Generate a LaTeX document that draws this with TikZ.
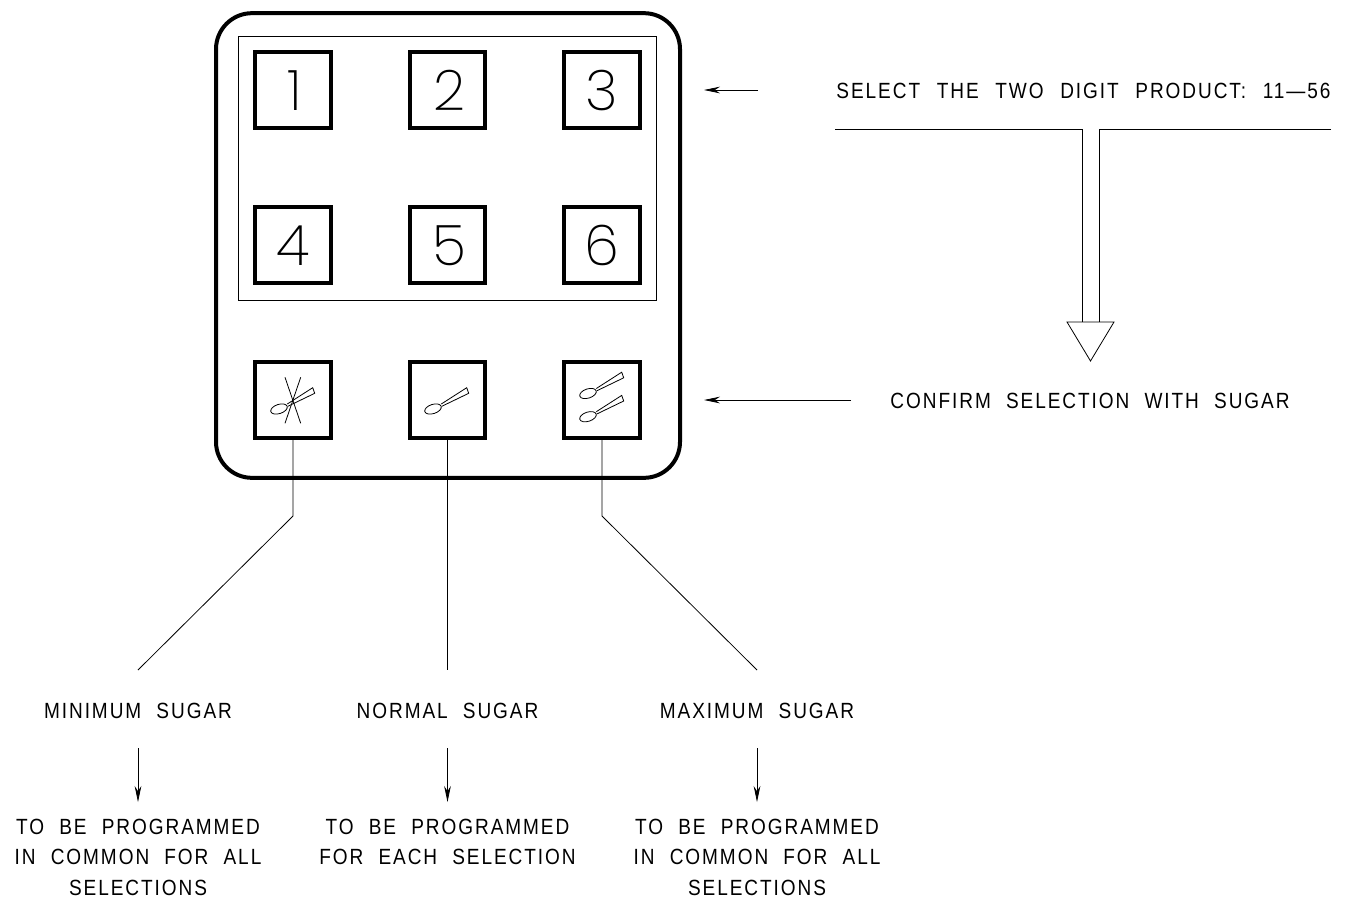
\documentclass[tikz,border=0pt]{standalone}
\usepackage{fontspec}
\setmainfont{Liberation Sans}
\newfontfamily\lblfont[LetterSpace=8.8,WordSpace=2.1,FakeStretch=0.865]{Liberation Sans}
\newfontfamily\digfont{Poppins ExtraLight}
\newcommand\wgap{\ \kern1.1pt}
\usetikzlibrary{arrows.meta}
\tikzset{
  keybox/.style={draw=black,line width=3pt,minimum size=56.5pt,inner sep=0pt,fill=white},
  digit/.style={font=\digfont\fontsize{42}{42}\selectfont},
  lbl/.style={font=\lblfont\fontsize{16.5}{23.1}\selectfont,align=center,inner sep=0pt,text=black},
  thinline/.style={line width=0.6pt,draw=black},
  arr/.style={thinline,-{Stealth[length=12pt,width=5pt]}},
  spoonline/.style={line width=0.6pt,draw=black},
  pics/spoon/.style={code={
    \draw[spoonline,rotate=18] (0,0) ellipse (8.6 and 4.6);
    \draw[spoonline] (8.3,-5) -- (33.7,-21.3) -- (35.7,-15.7) -- (9,-2.8);
  }}
}
\begin{document}
\begin{tikzpicture}[x=0.75pt,y=-0.75pt]
\useasboundingbox (0,0) rectangle (1348,900);
\fill[white] (0,0) rectangle (1348,900);
% panel
\node[draw=black,line width=3pt,rounded corners=27pt,minimum width=348pt,minimum height=348.5pt,inner sep=0pt] (panel) at (448,245.5) {};
\node[thinline,draw,minimum width=314pt,minimum height=198pt,inner sep=0pt] (inner) at (447.5,168) {};
% keys
\node[keybox] (k1) at (293,90) {}; \node[digit] (d-1) at (295,90.5) {1};
\node[keybox] (k2) at (447.5,90) {}; \node[digit] (d-2) at (449,90.5) {2};
\node[keybox] (k3) at (602,90) {}; \node[digit] (d-3) at (602,90.5) {3};
\node[keybox] (k4) at (293,245) {}; \node[digit] (d-4) at (293,245.5) {4};
\node[keybox] (k5) at (447.5,245) {}; \node[digit] (d-5) at (449,245.5) {5};
\node[keybox] (k6) at (602,245) {}; \node[digit] (d-6) at (602,245.5) {6};
\node[keybox] (smin) at (293,400) {};
\node[keybox] (snor) at (447.5,400) {};
\node[keybox] (smax) at (602,400) {};
% spoons
\pic at (279,409) {spoon};
\draw[spoonline] (285,377.3) -- (300.7,423.3);
\draw[spoonline] (300.7,377.3) -- (285,423.3);
\pic at (433,409) {spoon};
\pic at (588,393.5) {spoon};
\pic at (588,416.7) {spoon};
% top right
\node[lbl] (sel) at (1083.5,90.5) {SELECT\wgap THE\wgap TWO\wgap DIGIT\wgap PRODUCT:\wgap 11—56};
\node[lbl] (conf) at (1090,400.5) {CONFIRM SELECTION WITH SUGAR};
\coordinate (a1) at (758,90);
\coordinate (a1e) at (704,90);
\coordinate (a2) at (851,400);
\coordinate (a2e) at (704,400);
\draw[arr] (a1) -- (a1e);
\coordinate (ta) at (835,129);
\coordinate (tb) at (1082,129);
\coordinate (tc) at (1082,322);
\coordinate (td) at (1331,129);
\coordinate (te) at (1099,129);
\coordinate (tf) at (1099,322);
\draw[thinline] (ta) -- (tb) -- (tc);
\draw[thinline] (td) -- (te) -- (tf);
\coordinate (t1) at (1067,322);
\coordinate (t2) at (1114,322);
\coordinate (t3) at (1090.5,361);
\draw[thinline] (t1) -- (t2) -- (t3) -- cycle;
\draw[arr] (a2) -- (a2e);
% lower
\node[lbl] (l1) at (138,710.5) {MINIMUM SUGAR};
\node[lbl] (l2) at (447.5,710.5) {NORMAL SUGAR};
\node[lbl] (l3) at (757,710.5) {MAXIMUM SUGAR};
\coordinate (m1) at (293,516);
\coordinate (e1) at (138,670);
\coordinate (e2) at (447.5,670);
\coordinate (m3) at (602,516);
\coordinate (e3) at (757,670);
\draw[thinline] (smin.south) -- (m1) -- (e1);
\draw[thinline] (snor.south) -- (e2);
\draw[thinline] (smax.south) -- (m3) -- (e3);
\node[lbl,anchor=north] (b1) at (138,818.5) {TO BE PROGRAMMED\\IN COMMON FOR ALL\\SELECTIONS};
\node[lbl,anchor=north] (b2) at (447.5,818.5) {TO BE PROGRAMMED\\FOR EACH SELECTION};
\node[lbl,anchor=north] (b3) at (757,818.5) {TO BE PROGRAMMED\\IN COMMON FOR ALL\\SELECTIONS};
\coordinate (d1) at (138,748); \coordinate (f1) at (138,802);
\coordinate (d2) at (447.5,748); \coordinate (f2) at (447.5,802);
\coordinate (d3) at (757,748); \coordinate (f3) at (757,802);
\draw[arr] (d1) -- (f1);
\draw[arr] (d2) -- (f2);
\draw[arr] (d3) -- (f3);
\end{tikzpicture}
\end{document}
